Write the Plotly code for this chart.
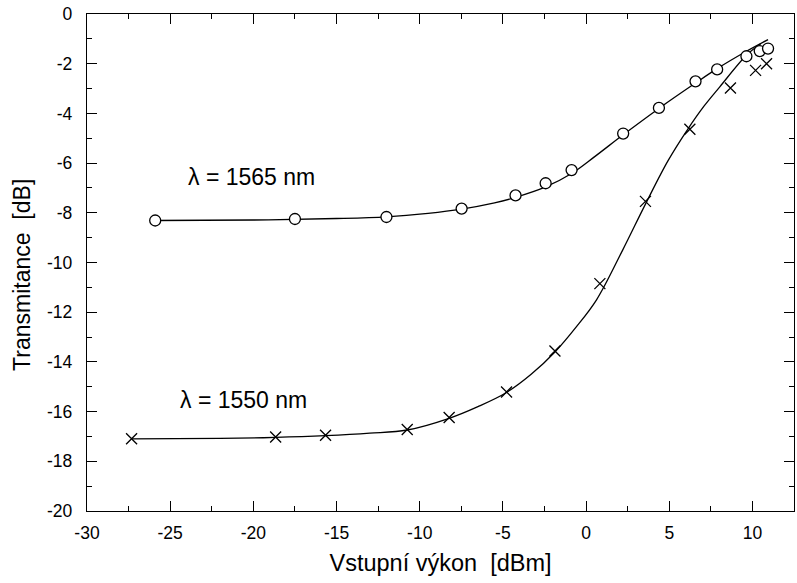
import plotly.graph_objects as go

# Measured points, lambda = 1565 nm (circles)
x1565 = [-25.9, -17.5, -12.0, -7.48, -4.24, -2.43, -0.87, 2.23, 4.38, 6.58, 7.88, 9.64, 10.44, 10.94]
y1565 = [-8.31, -8.25, -8.17, -7.83, -7.30, -6.81, -6.28, -4.81, -3.78, -2.71, -2.23, -1.70, -1.49, -1.39]

# Measured points, lambda = 1550 nm (crosses)
x1550 = [-27.32, -18.66, -15.66, -10.75, -8.23, -4.78, -1.87, 0.83, 3.57, 6.24, 8.68, 10.19, 10.85]
y1550 = [-17.09, -17.02, -16.95, -16.72, -16.24, -15.21, -13.56, -10.85, -7.54, -4.64, -2.98, -2.27, -2.00]

# Fitted curves
fx1565 = [-25.9, -20.0, -15.0, -12.0, -9.5, -7.48, -5.5, -4.24, -2.43, -0.87, 0.5, 2.23, 4.38, 6.58, 7.88, 9.64, 10.94]
fy1565 = [-8.31, -8.29, -8.23, -8.16, -8.02, -7.85, -7.60, -7.38, -6.96, -6.42, -5.75, -4.86, -3.80, -2.78, -2.20, -1.50, -1.03]

fx1550 = [-27.32, -22.0, -18.66, -15.66, -13.0, -10.75, -8.23, -6.5, -4.78, -3.3, -1.87, -0.6, 0.63, 2.2, 3.57, 4.93, 6.14, 7.1, 8.04, 9.64, 10.5]
fy1550 = [-17.10, -17.08, -17.04, -16.97, -16.87, -16.74, -16.27, -15.80, -15.23, -14.50, -13.60, -12.60, -11.50, -9.50, -7.65, -5.90, -4.61, -3.70, -2.93, -1.66, -1.20]

x_ticks = [-30, -25, -20, -15, -10, -5, 0, 5, 10]
x_labels = ["-30", "-25", "-20", "-15", "-10", "-5", "0", "5", "10"]
y_ticks = [0, -2, -4, -6, -8, -10, -12, -14, -16, -18, -20]
y_labels = ["0", "-2", "-4", "-6", "-8", "-10", "-12", "-14", "-16", "-18", "-20"]

font = "Arial, Liberation Sans, sans-serif"

fig = go.Figure()
fig.add_trace(go.Scatter(x=fx1565, y=fy1565, mode="lines", line=dict(color="black", width=1.3, shape="spline", smoothing=1.0), showlegend=False, hoverinfo="skip"))
fig.add_trace(go.Scatter(x=fx1550, y=fy1550, mode="lines", line=dict(color="black", width=1.3, shape="spline", smoothing=1.0), showlegend=False, hoverinfo="skip"))
fig.add_trace(go.Scatter(x=x1565, y=y1565, mode="markers", marker=dict(symbol="circle", size=11, color="white", line=dict(color="black", width=1.3)), showlegend=False))
fig.add_trace(go.Scatter(x=x1550, y=y1550, mode="markers", marker=dict(symbol="x-thin-open", size=11, color="black", line=dict(color="black", width=1.3)), showlegend=False))

fig.add_annotation(x=-20.14, y=-6.56, text="λ = 1565 nm", showarrow=False, font=dict(family=font, size=23, color="black"))
fig.add_annotation(x=-20.58, y=-15.55, text="λ = 1550 nm", showarrow=False, font=dict(family=font, size=23, color="black"))

# y-axis title placed slightly below the plot centre, as in the reference
fig.add_annotation(xref="paper", yref="paper", x=-0.092, y=0.475, text="Transmitance  [dB]",
                   textangle=-90, showarrow=False, xanchor="center", yanchor="middle",
                   font=dict(family=font, size=23, color="black"))

axis_common = dict(
    showline=True, linecolor="black", linewidth=1.3, mirror="ticks",
    ticks="inside", ticklen=10, tickwidth=1.3, tickcolor="black",
    showgrid=False, zeroline=False,
    tickfont=dict(family=font, size=17.5, color="black"),
)

fig.update_xaxes(range=[-30, 12.5], tickmode="array", tickvals=x_ticks, ticktext=x_labels,
                 minor=dict(ticks="inside", ticklen=5, dtick=2.5, tick0=0, tickwidth=1.3, tickcolor="black"),
                 ticklabelstandoff=6,
                 title=dict(text="Vstupní výkon  [dBm]", font=dict(family=font, size=23.5, color="black"), standoff=12),
                 **axis_common)
fig.update_yaxes(range=[-20, 0], tickmode="array", tickvals=y_ticks, ticktext=y_labels,
                 minor=dict(ticks="inside", ticklen=5, dtick=1, tick0=0, tickwidth=1.3, tickcolor="black"),
                 ticklabelstandoff=10,
                 **axis_common)

fig.update_layout(width=797, height=583, margin=dict(l=87, r=3, t=14, b=72),
                  plot_bgcolor="white", paper_bgcolor="white")

fig.write_html("out.html")
